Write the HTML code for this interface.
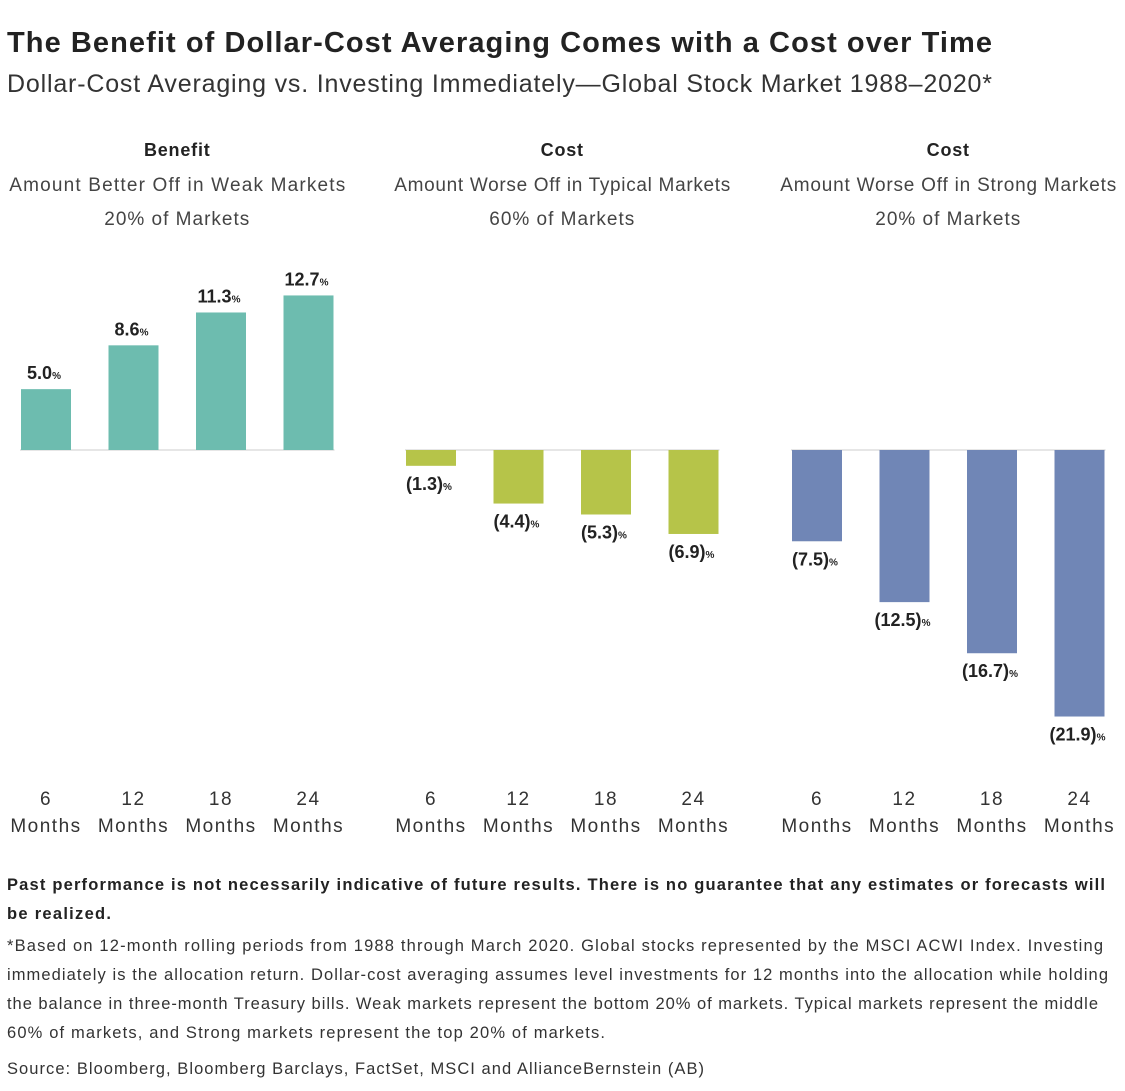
<!DOCTYPE html>
<html><head><meta charset="utf-8">
<style>
body{margin:0;width:1125px;height:1091px;background:#fff;font-family:"Liberation Sans",sans-serif;color:#222;overflow:hidden}
</style></head>
<body>
<svg id="chart" width="1125" height="1091" style="position:absolute;left:0;top:0" font-family="Liberation Sans, sans-serif">
<text x="7" y="52" font-size="29" font-weight="bold" fill="#222" textLength="985" lengthAdjust="spacing">The Benefit of Dollar-Cost Averaging Comes with a Cost over Time</text>
<text x="7" y="92" font-size="25" fill="#333" textLength="985" lengthAdjust="spacing">Dollar-Cost Averaging vs. Investing Immediately—Global Stock Market 1988–2020*</text>
<g font-size="16.5" font-weight="bold" fill="#222">
<text x="7" y="890" textLength="1098" lengthAdjust="spacing">Past performance is not necessarily indicative of future results. There is no guarantee that any estimates or forecasts will</text>
<text x="7" y="919" textLength="104" lengthAdjust="spacing">be realized.</text>
</g>
<g font-size="16.5" fill="#333">
<text x="7" y="951" textLength="1096" lengthAdjust="spacing">*Based on 12-month rolling periods from 1988 through March 2020. Global stocks represented by the MSCI ACWI Index. Investing</text>
<text x="7" y="980" textLength="1101" lengthAdjust="spacing">immediately is the allocation return. Dollar-cost averaging assumes level investments for 12 months into the allocation while holding</text>
<text x="7" y="1009" textLength="1091" lengthAdjust="spacing">the balance in three-month Treasury bills. Weak markets represent the bottom 20% of markets. Typical markets represent the middle</text>
<text x="7" y="1038" textLength="598" lengthAdjust="spacing">60% of markets, and Strong markets represent the top 20% of markets.</text>
</g>
<text x="7" y="1074" font-size="16.5" fill="#333" textLength="697" lengthAdjust="spacing">Source: Bloomberg, Bloomberg Barclays, FactSet, MSCI and AllianceBernstein (AB)</text>
</svg>
<script>
const categories=["6|Months","12|Months","18|Months","24|Months"];
const panelTitles=["Benefit","Cost","Cost"];
const panelSub1=["Amount Better Off in Weak Markets","Amount Worse Off in Typical Markets","Amount Worse Off in Strong Markets"];
const panelSub2=["20% of Markets","60% of Markets","20% of Markets"];
const weakValues=[5.0,8.6,11.3,12.7];
const typicalValues=[-1.3,-4.4,-5.3,-6.9];
const strongValues=[-7.5,-12.5,-16.7,-21.9];
const colors=["#6dbcaf","#b6c449","#7086b6"];
const series=[weakValues,typicalValues,strongValues];
const NS="http://www.w3.org/2000/svg";
const svg=document.getElementById('chart');
const baseY=450, pxPer=12.17;
const y=v=>baseY-v*pxPer;
const panelX=[21,406,792], step=87.5, bw=50;
function mk(tag,attrs,txt){const e=document.createElementNS(NS,tag);for(const k in attrs)e.setAttribute(k,attrs[k]);if(txt!==undefined)e.textContent=txt;svg.appendChild(e);return e;}
series.forEach((vals,p)=>{
  const cx=panelX[p]+1.5*step+bw/2;
  let e=mk('text',{x:cx,y:156,'text-anchor':'middle','font-size':18,'font-weight':'bold',fill:'#222','letter-spacing':0.8},panelTitles[p]);
  
  
  e=mk('text',{x:cx,y:191,'text-anchor':'middle','font-size':19,fill:'#444',textLength:336,lengthAdjust:'spacing'},panelSub1[p]);
  
  
  e=mk('text',{x:cx,y:225,'text-anchor':'middle','font-size':19,fill:'#444','letter-spacing':1},panelSub2[p]);
  
  
  e=mk('line',{x1:panelX[p]-1,x2:panelX[p]+3*step+bw+1,y1:baseY,y2:baseY,stroke:'#ddd','stroke-width':1.5});
  
  
  vals.forEach((v,i)=>{
    const x=panelX[p]+i*step;
    const top=Math.min(y(v),baseY), h=Math.abs(y(v)-baseY);
    const r=mk('rect',{x:x,y:top,width:bw,height:h,fill:colors[p]});
    
    
    const lbl=v>=0?v.toFixed(1):'('+Math.abs(v).toFixed(1)+')';
    const ly=v>=0?y(v)-10:y(v)+24;
    const t=mk('text',{x:x+bw/2-2,y:ly,'text-anchor':'middle','font-size':18,'font-weight':'bold',fill:'#222'});
    t.innerHTML=lbl+'<tspan font-size="10">%</tspan>';
    
    
    const parts=categories[i].split('|');
    const a=mk('text',{x:x+bw/2,y:805,'text-anchor':'middle','font-size':19,fill:'#333','letter-spacing':1.5},parts[0]);
    
    
    const b=mk('text',{x:x+bw/2,y:832,'text-anchor':'middle','font-size':19,fill:'#333','letter-spacing':1.5},parts[1]);
    
    
  });
});
</script>
</body></html>
